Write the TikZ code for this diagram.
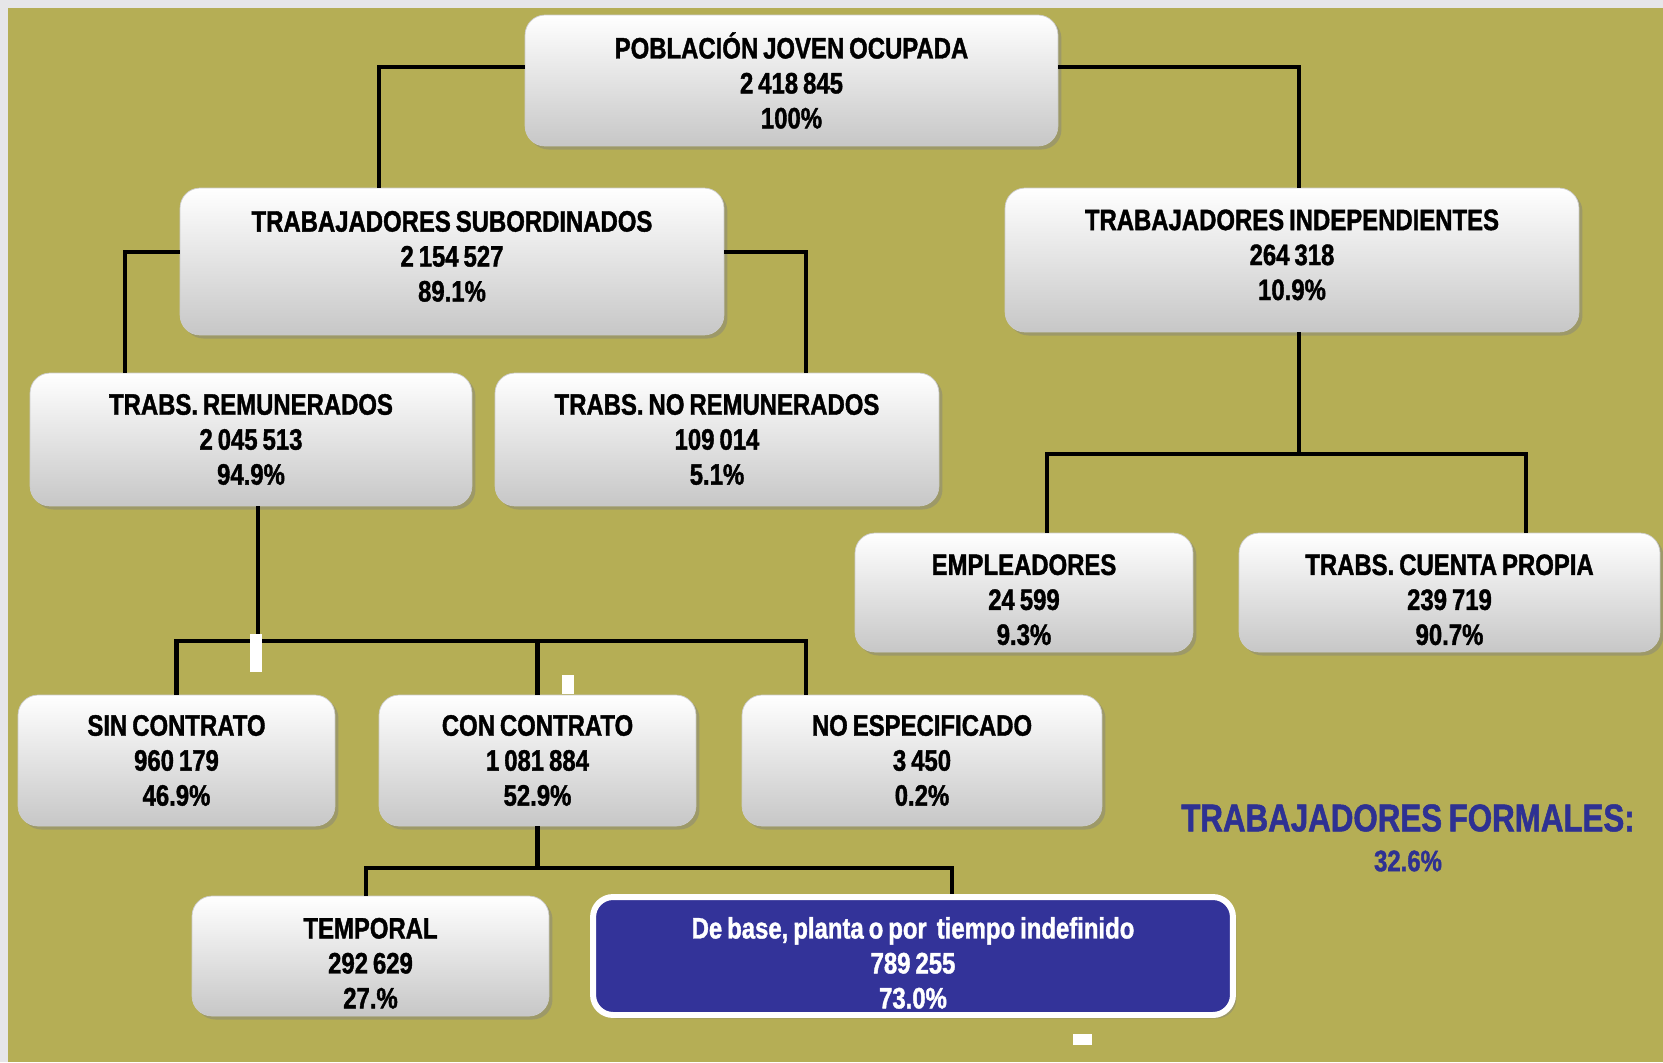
\documentclass[tikz,border=0pt]{standalone}
\usepackage{fontspec}
\setmainfont{Liberation Sans}[FakeStretch=0.81, WordSpace=0.75, BoldFeatures={FakeBold=1.3}]
\usetikzlibrary{shadows}

\definecolor{bgolive}{HTML}{B5AE55}
\definecolor{bgmargin}{HTML}{E6E6E8}
\definecolor{basefill}{HTML}{333399}
\definecolor{formaltext}{HTML}{2E3192}

\newcommand{\toppad}{\rule{0pt}{20pt}}
\newcommand{\botpad}{\rule[-6pt]{0pt}{6pt}}

\tikzstyle{group} = [rectangle, rounded corners=0.4cm, align=center, text centered, top color=white, bottom color=black!22, draw=white!80!black, thin, drop shadow={shadow xshift=2pt, shadow yshift=-2pt, opacity=.45}, font=\fontsize{16.8}{19.9}\selectfont\bfseries]
\tikzstyle{keygroup} = [rectangle, rounded corners=0.4cm, align=center, text centered, fill=basefill, draw=white, line width=3.4pt, text=white, drop shadow={shadow xshift=2pt, shadow yshift=-2pt, opacity=.45}, font=\fontsize{16.8}{19.9}\selectfont\bfseries]
\tikzstyle{link} = [line width=2.8pt, black]

\begin{document}
\begin{tikzpicture}[x=0.02cm, y=-0.02cm]
\useasboundingbox (0,0) rectangle (1663,1062);
\fill [bgmargin] (0,0) rectangle (1663,1062);
\fill [bgolive] (8,8) rectangle (1663,1062);

%Groups
\node (pob) [group, minimum width=10.66cm, minimum height=2.62cm] at (791.5,80.5) {POBLACIÓN JOVEN OCUPADA\\2 418 845\\100\%};
\node (sub) [group, minimum width=10.88cm, minimum height=2.94cm] at (452,261.5) {TRABAJADORES SUBORDINADOS\\2 154 527\\89.1\%\botpad};
\node (ind) [group, minimum width=11.48cm, minimum height=2.88cm] at (1292,260) {TRABAJADORES INDEPENDIENTES\\264 318\\10.9\%\botpad};
\node (rem) [group, minimum width=8.84cm, minimum height=2.66cm] at (251,439.5) {TRABS. REMUNERADOS\\2 045 513\\94.9\%};
\node (norem) [group, minimum width=8.88cm, minimum height=2.66cm] at (717,439.5) {TRABS. NO REMUNERADOS\\109 014\\5.1\%};
\node (emp) [group, minimum width=6.76cm, minimum height=2.38cm] at (1024,592.5) {\toppad EMPLEADORES\\24 599\\9.3\%};
\node (prop) [group, minimum width=8.42cm, minimum height=2.38cm] at (1449.5,592.5) {\toppad TRABS. CUENTA PROPIA\\239 719\\90.7\%};
\node (sin) [group, minimum width=6.34cm, minimum height=2.62cm] at (176.5,760.5) {SIN CONTRATO\\960 179\\46.9\%};
\node (con) [group, minimum width=6.34cm, minimum height=2.62cm] at (537.5,760.5) {CON CONTRATO\\1 081 884\\52.9\%};
\node (noesp) [group, minimum width=7.2cm, minimum height=2.62cm] at (922,760.5) {NO ESPECIFICADO\\3 450\\0.2\%};
\node (temp) [group, minimum width=7.14cm, minimum height=2.4cm] at (370.5,956) {\toppad TEMPORAL\\292 629\\27.\%};
\node (base) [keygroup, minimum width=12.8cm, minimum height=2.36cm] at (913,956) {\toppad De base, planta o por\ \ tiempo indefinido\\789 255\\73.0\%};

%Formal workers
\node (formal) [text=formaltext, font=\fontsize{22}{26}\selectfont\bfseries] at (1408,818) {TRABAJADORES FORMALES:};
\node (formalpct) [text=formaltext, font=\fontsize{16.8}{19.9}\selectfont\bfseries] at (1408,861) {32.6\%};

%Connectors
\coordinate (jind) at (1299,454);
\coordinate (jrem) at (258,641);
\coordinate (jcon) at (539,868);
\draw [link] (pob.west |- 0,67) -| (sub.north -| 379,0);
\draw [link] (pob.east |- 0,67) -| (ind.north -| 1299,0);
\draw [link] (sub.west |- 0,252) -| (rem.north -| 125,0);
\draw [link] (sub.east |- 0,252) -| (norem.north -| 806,0);
\draw [link] (ind.south -| jind) -- (jind);
\draw [link] (emp.north -| 1047,0) |- (jind) -| (prop.north -| 1526,0);
\draw [link] (rem.south -| jrem) -- (jrem);
\draw [link] (sin.north) |- (jrem) -| (noesp.north -| 806,0);
\draw [link] (con.north) -- (con.north |- jrem);
\draw [link] (con.south) -- (con.south |- jcon);
\draw [link] (temp.north -| 366,0) |- (jcon) -| (base.north -| 952,0);

%White marks
\fill [white] (250,634) rectangle (262,672);
\fill [white] (562,675) rectangle (574,694);
\fill [white] (1073,1034) rectangle (1092,1045);
\end{tikzpicture}
\end{document}
